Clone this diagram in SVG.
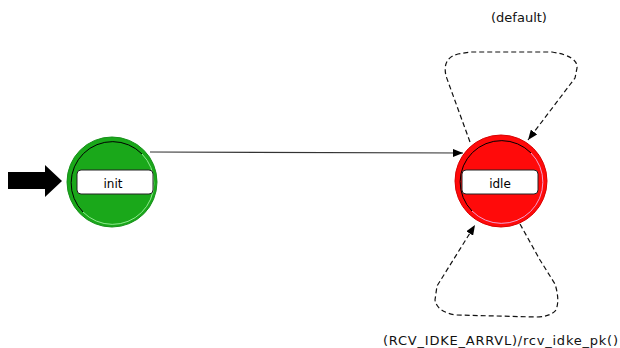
<svg xmlns="http://www.w3.org/2000/svg" width="620" height="348" viewBox="0 0 620 348">
<style>
.lbl{font-family:"DejaVu Sans",sans-serif;font-size:12px;fill:#000;text-anchor:middle}
.tlbl{font-family:"DejaVu Sans",sans-serif;font-size:13px;fill:#111}
.box{fill:#fff;stroke:#222;stroke-width:1}
.loop{fill:none;stroke:#111;stroke-width:1.2;stroke-dasharray:5 3}
.solid{fill:none;stroke:#333;stroke-width:1.2}
</style>
<defs>
<marker id="ah" viewBox="0 0 10 8" refX="10" refY="4" markerWidth="10" markerHeight="8" markerUnits="userSpaceOnUse" orient="auto">
<path d="M0,0 L10,4 L0,8 Z" fill="#000"/>
</marker>
</defs>
<rect width="620" height="348" fill="#fff"/>
<g id="start-arrow">
<polygon points="8,172 45,172 45,165 62,181 45,197 45,189 8,189" fill="#000"/>
</g>
<g id="connectors">
<path id="init-idle" class="solid" d="M150,152 L463,153" marker-end="url(#ah)"/>
<path id="default-loop" class="loop" d="M470,142 L446,76 Q442,58 458,54 L470,52 L552,52 Q578,56 577,68 L575,78 L528,140" marker-end="url(#ah)"/>
<path id="rcv-loop" class="loop" d="M520,224 L540,260 L555,284 Q560,300 556,310 Q550,317 536,317 L456,315 Q437,312 435,300 L437,286 L475,225" marker-end="url(#ah)"/>
</g>
<g id="init">
<circle cx="112" cy="182" r="45" fill="#1aa81a" stroke="#17901a" stroke-width="1"/>
<path d="M83,212 A41,41 0 0 1 142,154" fill="none" stroke="#000" stroke-width="1"/>
<path d="M142,154 A41,41 0 0 1 83,212" fill="none" stroke="#8fe88f" stroke-width="1"/>
<rect class="box" x="77" y="170" width="76" height="24" rx="4"/>
<text class="lbl" x="113" y="188">init</text>
</g>
<g id="idle">
<circle cx="501" cy="181" r="46" fill="#ff0a0a" stroke="#d80000" stroke-width="1"/>
<path d="M472,211 A41,41 0 0 1 531,153" fill="none" stroke="#000" stroke-width="1"/>
<path d="M531,153 A41,41 0 0 1 472,211" fill="none" stroke="#f0a0d0" stroke-width="1"/>
<rect class="box" x="462" y="170" width="76" height="24" rx="4"/>
<text class="lbl" x="500" y="188">idle</text>
</g>
<g id="labels">
<text class="tlbl" x="519" y="22" text-anchor="middle">(default)</text>
<text class="tlbl" x="383" y="345" textLength="235" lengthAdjust="spacing">(RCV_IDKE_ARRVL)/rcv_idke_pk()</text>
</g>
</svg>
